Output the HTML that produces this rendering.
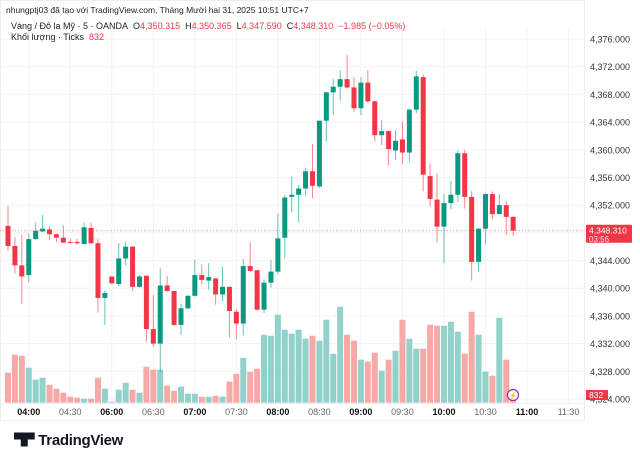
<!DOCTYPE html>
<html><head><meta charset="utf-8"><style>
body{margin:0;width:640px;height:457px;background:#fff;overflow:hidden;font-family:"Liberation Sans","Noto Sans CJK SC",sans-serif}
svg{position:absolute;left:0;top:0}
</style></head><body>
<svg id="c" width="640" height="457"></svg>
<script>
const opens=[4349.0,4346.1,4343.3,4341.9,4347.1,4348.2,4348.5,4347.8,4347.3,4346.7,4346.7,4346.4,4348.7,4346.5,4338.6,4341.7,4340.6,4344.3,4346.0,4340.2,4341.8,4334.1,4332.0,4340.4,4339.6,4334.7,4337.1,4338.9,4341.9,4341.1,4341.4,4339.1,4340.2,4336.6,4334.9,4343.2,4342.6,4336.9,4340.8,4342.4,4347.3,4353.2,4353.5,4354.4,4356.9,4354.7,4364.2,4368.3,4369.1,4370.2,4369.0,4366.0,4369.7,4367.0,4362.1,4362.7,4359.9,4361.5,4359.6,4365.8,4370.5,4356.2,4352.8,4348.9,4352.3,4353.5,4359.5,4353.2,4343.8,4348.6,4353.6,4350.7,4352.0,4350.3];
const closes=[4346.1,4343.3,4341.7,4347.1,4348.3,4348.6,4347.8,4347.3,4346.6,4346.6,4346.5,4348.8,4346.5,4338.6,4339.3,4340.7,4344.3,4346.0,4340.2,4341.7,4334.1,4332.0,4340.4,4339.6,4334.7,4337.1,4338.9,4341.9,4341.2,4341.6,4339.1,4340.2,4336.7,4334.9,4343.2,4342.5,4336.9,4340.8,4342.4,4347.2,4353.1,4353.5,4354.4,4356.9,4354.8,4364.2,4368.3,4369.1,4370.2,4369.0,4366.0,4369.7,4367.0,4362.1,4362.7,4360.1,4361.3,4359.6,4365.8,4370.6,4356.4,4352.9,4348.9,4352.3,4353.5,4359.5,4353.2,4343.8,4348.6,4353.6,4350.7,4352.0,4350.3,4348.31];
const highs=[4351.9,4347.4,4347.7,4347.9,4349.5,4350.6,4349.0,4347.9,4349.1,4347.1,4347.1,4349.5,4349.5,4347.1,4339.6,4341.7,4346.5,4346.7,4346.1,4341.9,4341.9,4339.0,4342.9,4341.8,4339.6,4337.8,4339.0,4344.1,4343.4,4343.6,4341.5,4343.1,4340.2,4337.0,4344.2,4346.6,4342.6,4341.3,4344.1,4350.8,4353.5,4356.1,4354.9,4357.4,4360.8,4364.2,4368.4,4370.2,4371.5,4373.7,4370.5,4370.5,4371.5,4367.1,4364.3,4362.8,4362.8,4364.1,4365.9,4371.4,4370.9,4358.0,4356.6,4353.6,4355.5,4359.9,4360.0,4354.0,4348.7,4353.7,4354.0,4353.6,4352.6,4350.4];
const lows=[4345.4,4342.1,4337.8,4340.9,4347.0,4348.1,4347.0,4346.7,4346.5,4346.4,4346.3,4346.3,4346.4,4336.5,4334.7,4340.6,4340.3,4343.3,4339.6,4340.1,4332.2,4331.6,4327.9,4339.5,4334.5,4333.2,4337.0,4338.8,4340.5,4339.8,4337.6,4338.1,4332.9,4332.6,4333.2,4342.4,4336.8,4336.4,4340.1,4342.0,4344.3,4350.9,4349.5,4353.3,4353.0,4354.5,4361.2,4365.0,4367.1,4368.9,4365.5,4365.0,4366.8,4361.2,4360.7,4357.8,4358.5,4357.9,4358.3,4365.3,4354.0,4351.8,4346.6,4343.6,4351.4,4352.5,4351.5,4341.1,4342.3,4346.4,4349.9,4351.5,4347.7,4347.5];
const volumes=[30,48,47,35,23,25,18,14,10,6,5,4,4,25,14,1,13,20,13,10,36,33,33,17,12,16,9,9,6,6,7,6,21,29,45,31,34,68,67,88,73,69,73,64,67,62,83,49,96,68,62,43,41,50,32,43,52,83,64,54,54,78,77,77,81,71,49,91,68,31,27,85,43,3];
const priceTicks=[4376,4372,4368,4364,4360,4356,4352,4348,4344,4340,4336,4332,4328,4324];
const timeLabels=["04:00","04:30","06:00","06:30","07:00","07:30","08:00","08:30","09:00","09:30","10:00","10:30","11:00","11:30"];
const timeIdx=[3,9,15,21,27,33,39,45,51,57,63,69,75,81];
const lastPrice=4348.31;

const svg=document.getElementById('c');
const NS='http://www.w3.org/2000/svg';
const y=p=>39+(4376-p)*6.923;
const x=i=>8+i*6.92;
const vy=v=>402.7-v;
function mk(t,a,txt){const e=document.createElementNS(NS,t);for(const k in a)e.setAttribute(k,a[k]);if(txt!==undefined)e.textContent=txt;svg.appendChild(e);return e;}

priceTicks.forEach(p=>{const l=mk('line',{x1:0,x2:584,y1:y(p),y2:y(p),stroke:'#f3f3f3'});

});
timeIdx.forEach(i=>{const l=mk('line',{x1:x(i),x2:x(i),y1:28,y2:403,stroke:'#f3f3f3'});

});
mk('rect',{x:0.5,y:0.5,width:584,height:420,fill:'none',stroke:'#eeeeee'});
mk('line',{x1:0,x2:584,y1:403.5,y2:403.5,stroke:'#eeeeee'});

volumes.forEach((v,i)=>{const up=closes[i]>=opens[i];
const r=mk('rect',{x:x(i)-3,y:vy(v),width:6,height:v,fill:up?'#92d2cb':'#f7a9a7'});

});

mk('line',{x1:0,x2:584,y1:y(lastPrice),y2:y(lastPrice),stroke:'#f23645','stroke-dasharray':'1 2','stroke-width':0.8,opacity:0.6});

opens.forEach((o,i)=>{const c=closes[i];const up=c>=o;const col=up?'#089981':'#f23645';
const w=mk('line',{x1:x(i),x2:x(i),y1:y(highs[i]),y2:y(lows[i]),stroke:col,'stroke-width':1,opacity:0.6});


const top=y(Math.max(o,c)),bot=y(Math.min(o,c));
const b=mk('rect',{x:x(i)-2.5,y:top,width:5,height:Math.max(1,bot-top),fill:col});

});

priceTicks.forEach(p=>{const t=mk('text',{x:590,y:y(p)+3.5,'font-size':9,fill:'#333'},p.toLocaleString('en-US',{minimumFractionDigits:3}));

});
timeLabels.forEach((s,k)=>{const bold=s.endsWith(':00');
const t=mk('text',{x:x(timeIdx[k]),y:415,'font-size':9,'text-anchor':'middle',fill:bold?'#111':'#666','font-weight':bold?'bold':'normal'},s);

});

const pb=mk('rect',{x:586,y:y(lastPrice)-6,width:46,height:18,fill:'#f23645',rx:1});


mk('text',{x:589,y:y(lastPrice)+3,'font-size':8.5,fill:'#fff'},'4,348.310');
mk('text',{x:589,y:y(lastPrice)+11.5,'font-size':8,fill:'#fde'},'03:56');
const vb=mk('rect',{x:586,y:390,width:22,height:10,fill:'#f23645'});


mk('text',{x:589,y:398,'font-size':8.5,fill:'#fff'},'832');
const ic=mk('circle',{cx:513,cy:395,r:5.5,fill:'#fff',stroke:'#9c27b0','stroke-width':1.2});


mk('text',{x:513,y:398,'font-size':7,'text-anchor':'middle',fill:'#9c27b0'},'⚡');
</script>
<div style="position:absolute;left:6px;top:5px;font-size:8.5px;color:#222">nhungptj03 đã tạo với TradingView.com, Tháng Mười hai 31, 2025 10:51 UTC+7</div>
<div style="position:absolute;left:11px;top:21px;font-size:9px;color:#222;white-space:nowrap">Vàng / Đô la Mỹ · 5 · OANDA&nbsp; O<span style="color:#f23645">4,350.315</span>&nbsp; H<span style="color:#f23645">4,350.365</span>&nbsp; L<span style="color:#f23645">4,347.590</span>&nbsp; C<span style="color:#f23645">4,348.310</span>&nbsp; <span style="color:#f23645">−1.985 (−0.05%)</span></div>
<div style="position:absolute;left:11px;top:32px;font-size:9px;color:#222">Khối lượng · Ticks&nbsp; <span style="color:#f23645">832</span></div>
<div style="position:absolute;left:7px;top:430px;font-size:15px;font-weight:bold;color:#131722;letter-spacing:-0.3px"><span style="font-size:14px">▝▛</span> TradingView</div>
</body></html>
